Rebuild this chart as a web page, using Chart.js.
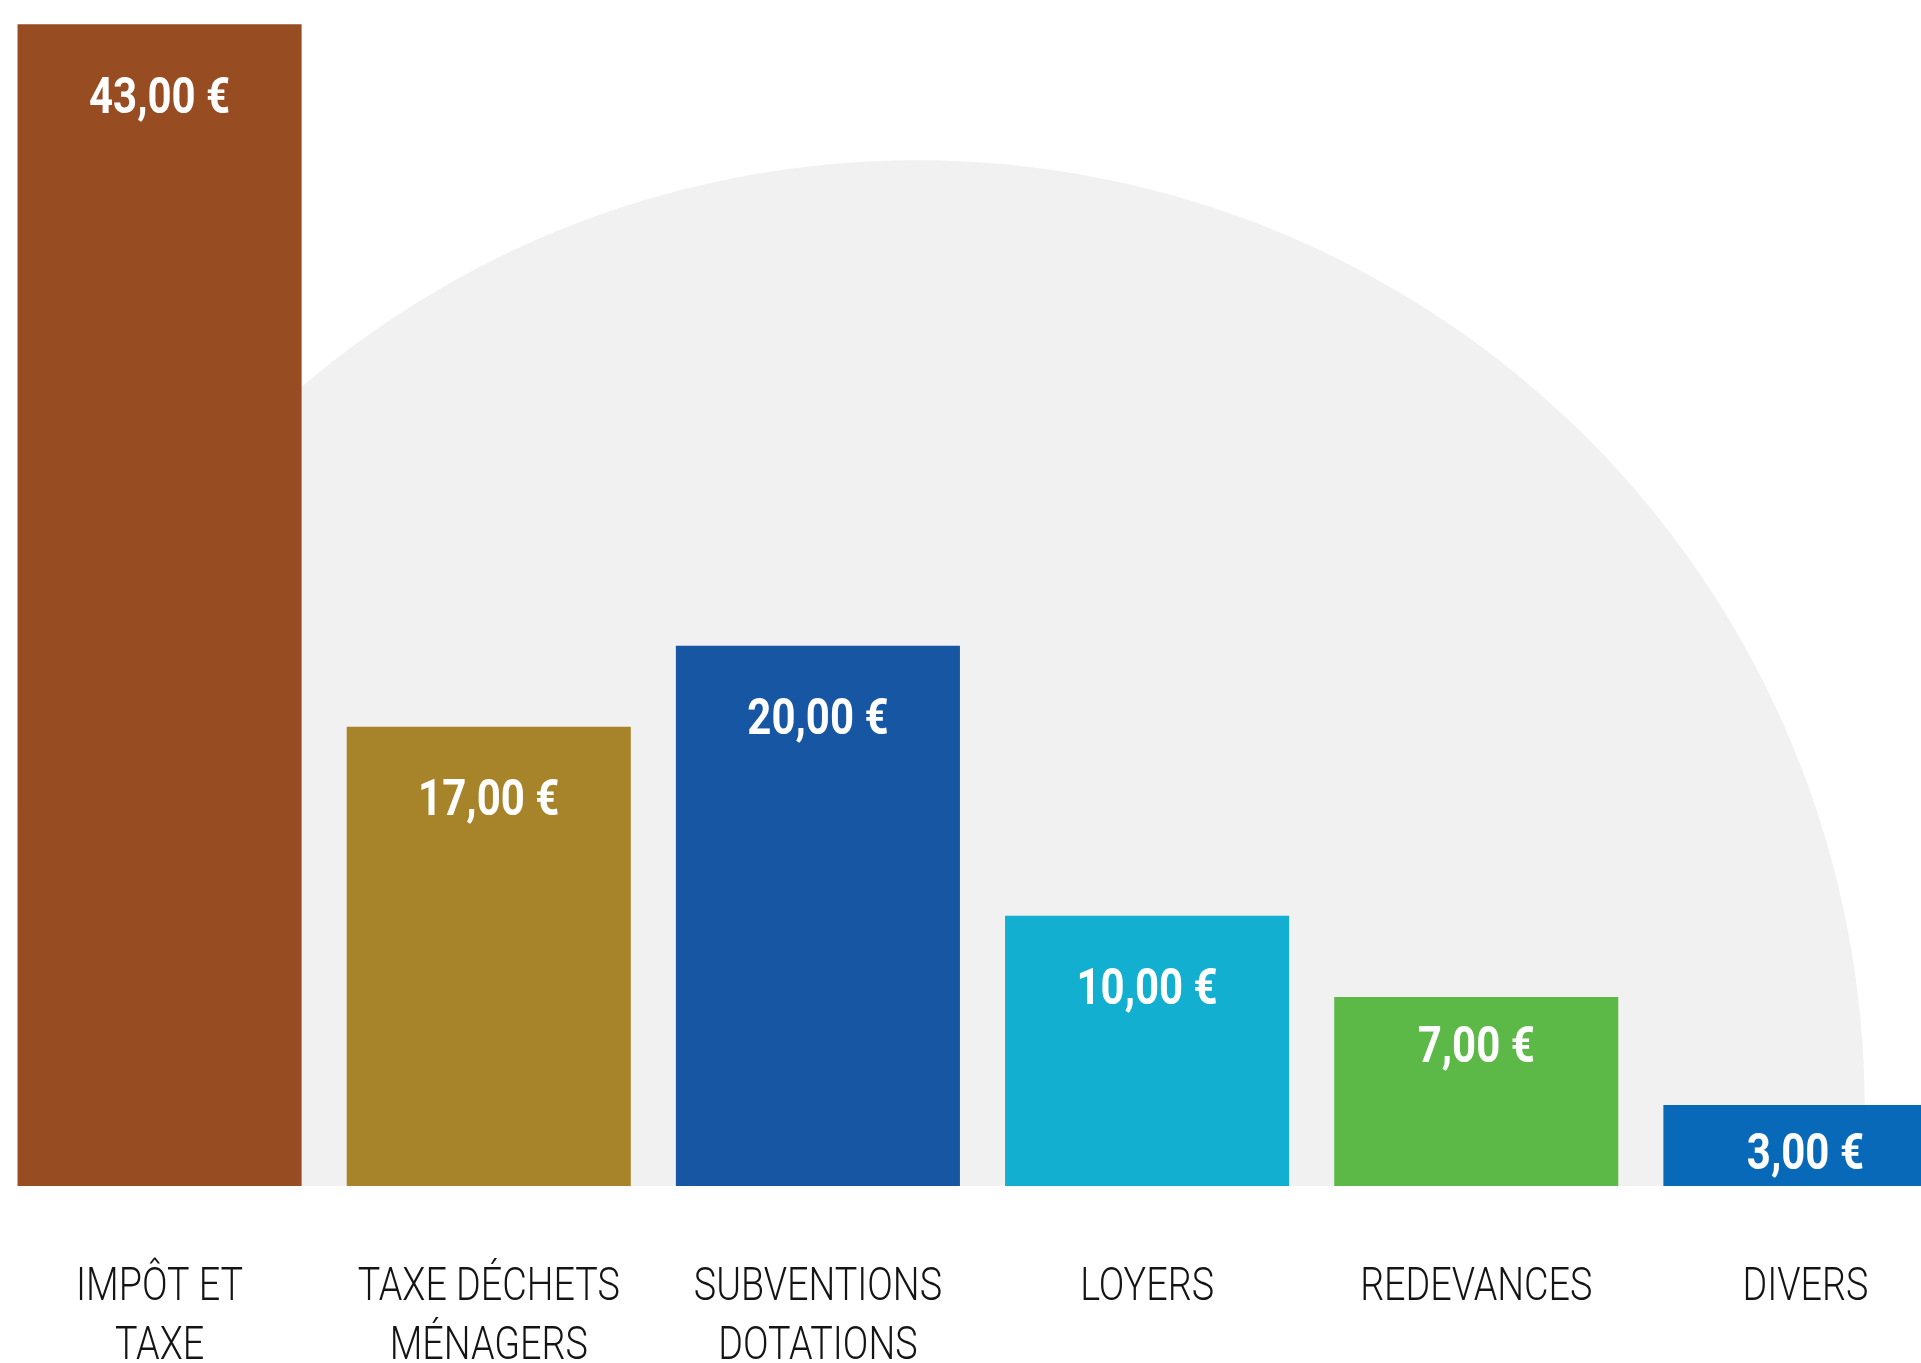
<!DOCTYPE html>
<html lang="fr">
<head>
<meta charset="utf-8">
<title>Recettes</title>
<script src="https://cdn.jsdelivr.net/npm/chart.js@4/dist/chart.umd.min.js"></script>
<style>
  html, body { margin: 0; padding: 0; background: #ffffff; overflow: hidden; }
  #wrap { position: relative; width: 1921px; height: 1363px; overflow: hidden; }
  #recettes { position: absolute; left: -5px; top: 0; }
</style>
</head>
<body>
<div id="wrap">
  <canvas id="recettes" width="1975" height="1363"></canvas>
</div>
<script>
'use strict';

// data
const categories = [['IMPÔT ET', 'TAXE'], ['TAXE DÉCHETS', 'MÉNAGERS'], ['SUBVENTIONS', 'DOTATIONS'], ['LOYERS'], ['REDEVANCES'], ['DIVERS']];
const amounts = [43, 17, 20, 10, 7, 3];
const barColors = ['#974c21', '#a7832a', '#1656a3', '#13afd0', '#5cb947', '#0869b8'];

function euro(v) {
    return v.toFixed(2).replace('.', ',') + ' €';
}

// draw text squeezed horizontally (the original uses a condensed face)
function narrowText(ctx, text, x, y, squeeze) {
    ctx.save();
    ctx.translate(x, y);
    ctx.scale(squeeze, 1);
    ctx.fillText(text, 0, 0);
    ctx.restore();
}

// big grey half disc behind the bars
const backdrop = {
    id: 'backdrop',
    beforeDatasetsDraw(chart) {
        const {ctx, chartArea, scales} = chart;
        const first = chart.getDatasetMeta(0).data[0];
        const cx = scales.x.getPixelForValue(2.3);
        const r = scales.x.getPixelForValue(2.3 + 2.88) - cx;
        const cy = scales.y.getPixelForValue(2.88);
        const left = first.x - first.width / 2;
        ctx.save();
        ctx.beginPath();
        ctx.rect(left, chartArea.top, chartArea.right - left, chartArea.height);
        ctx.clip();
        ctx.fillStyle = '#f1f1f1';
        ctx.beginPath();
        ctx.arc(cx, cy, r, 0, Math.PI * 2);
        ctx.fill();
        ctx.restore();
    }
};

// white amounts inside the bars + category names under them
const textLayer = {
    id: 'textLayer',
    afterDatasetsDraw(chart) {
        const ctx = chart.ctx;
        const meta = chart.getDatasetMeta(0);
        const xScale = chart.scales.x;
        const bottom = chart.chartArea.bottom;
        ctx.save();
        ctx.textAlign = 'center';
        ctx.textBaseline = 'middle';

        ctx.fillStyle = '#ffffff';
        ctx.font = 'bold 50px Roboto, sans-serif';
        meta.data.forEach((bar, i) => {
            const h = bar.base - bar.y;
            const off = Math.min(76, Math.max(52, h * 0.28));
            narrowText(ctx, euro(amounts[i]), bar.x, bar.y + off, 0.84);
        });

        ctx.fillStyle = '#141414';
        ctx.font = '300 46px Roboto, sans-serif';
        categories.forEach((lines, i) => {
            const x = xScale.getPixelForValue(i);
            lines.forEach((line, j) => {
                narrowText(ctx, line, x, bottom + 102 + j * 59, 0.82);
            });
        });
        ctx.restore();
    }
};

const ctx = document.getElementById('recettes').getContext('2d');
const chart = new Chart(ctx, {
    type: 'bar',
    data: {
        labels: categories.map(l => l.join(' ')),
        datasets: [{
            data: amounts,
            backgroundColor: barColors,
            borderWidth: 0,
            categoryPercentage: 1,
            barPercentage: 0.863
        }]
    },
    options: {
        responsive: false,
        animation: false,
        layout: { padding: 0 },
        plugins: {
            legend: { display: false },
            tooltip: { enabled: false }
        },
        scales: {
            x: {
                grid: { display: false, drawTicks: false, tickLength: 0 },
                border: { display: false },
                ticks: { display: false },
                afterFit(scale) {
                    scale.height = 177;
                }
            },
            y: {
                display: false,
                min: 0,
                max: 43.9
            }
        }
    },
    plugins: [backdrop, textLayer]
});
</script>
</body>
</html>
